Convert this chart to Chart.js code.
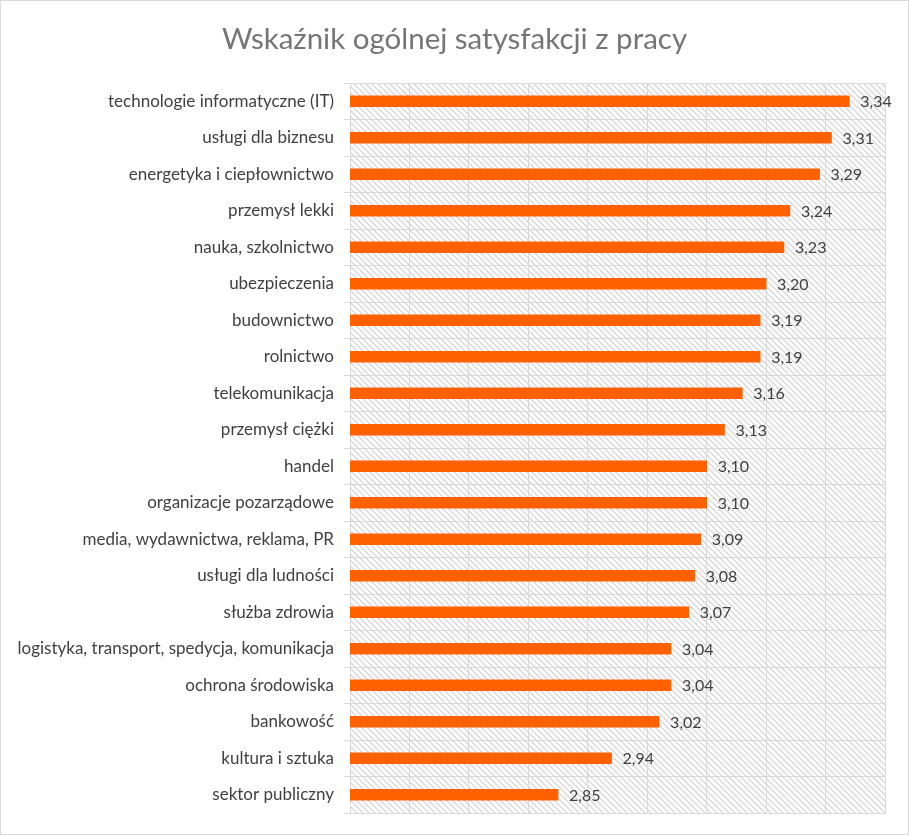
<!DOCTYPE html>
<html>
<head>
<meta charset="utf-8">
<script src="https://cdn.jsdelivr.net/npm/chart.js@4/dist/chart.umd.min.js"></script>
<style>
    html, body { margin: 0; padding: 0; background: #fff; }
    #wrap { position: relative; width: 909px; height: 835px; box-sizing: border-box; border: 1px solid #d9d9d9; }
</style>
</head>
<body>
<div id="wrap"><canvas id="chart" width="907" height="833"></canvas></div>
<script>
// 
// Chart data:
// 
var categories = [
    'technologie informatyczne (IT)',
    'usługi dla biznesu',
    'energetyka i ciepłownictwo',
    'przemysł lekki',
    'nauka, szkolnictwo',
    'ubezpieczenia',
    'budownictwo',
    'rolnictwo',
    'telekomunikacja',
    'przemysł ciężki',
    'handel',
    'organizacje pozarządowe',
    'media, wydawnictwa, reklama, PR',
    'usługi dla ludności',
    'służba zdrowia',
    'logistyka, transport, spedycja, komunikacja',
    'ochrona środowiska',
    'bankowość',
    'kultura i sztuka',
    'sektor publiczny'
];
var values = [3.34, 3.31, 3.29, 3.24, 3.23, 3.20, 3.19, 3.19, 3.16, 3.13,
              3.10, 3.10, 3.09, 3.08, 3.07, 3.04, 3.04, 3.02, 2.94, 2.85];
var title = 'Wskaźnik ogólnej satysfakcji z pracy';

var fontFamily = 'Lato, "Open Sans", sans-serif';

// 
// Hatched plot background (downward diagonal).
// 
function createHatch() {
    var tile = document.createElement('canvas');
    tile.width = 6;
    tile.height = 6;
    var c = tile.getContext('2d');
    c.fillStyle = '#ffffff';
    c.fillRect(0, 0, 6, 6);
    c.strokeStyle = '#d6d6d6';
    c.lineWidth = 1.3;
    c.beginPath();
    c.moveTo(-1, -1); c.lineTo(7, 7);
    c.moveTo(-4, 2); c.lineTo(4, 10);
    c.moveTo(2, -4); c.lineTo(10, 4);
    c.stroke();
    return tile;
}

var hatchPlugin = {
    id: 'hatch',
    beforeDraw: function (chart) {
        var ctx = chart.ctx, a = chart.chartArea;
        ctx.save();
        ctx.fillStyle = ctx.createPattern(createHatch(), 'repeat');
        ctx.fillRect(a.left, a.top, a.right - a.left, a.bottom - a.top);
        ctx.restore();
    }
};

// 
// Title centred on the whole canvas (not on the padded layout box).
// 
var titlePlugin = {
    id: 'centredTitle',
    afterDraw: function (chart) {
        var ctx = chart.ctx;
        ctx.save();
        ctx.font = '29.5px ' + fontFamily;
        ctx.fillStyle = '#757575';
        ctx.textAlign = 'center';
        ctx.textBaseline = 'middle';
        ctx.fillText(title, chart.width / 2, 38);
        ctx.restore();
    }
};

// 
// Value labels at the bar ends, decimal comma.
// 
var valueLabels = {
    id: 'valueLabels',
    afterDatasetsDraw: function (chart) {
        var ctx = chart.ctx;
        var meta = chart.getDatasetMeta(0);
        ctx.save();
        ctx.font = '16px ' + fontFamily;
        ctx.fillStyle = '#404040';
        ctx.textAlign = 'left';
        ctx.textBaseline = 'middle';
        meta.data.forEach(function (bar, i) {
            ctx.fillText(values[i].toFixed(2).replace('.', ','), bar.x + 11, bar.y + 1);
        });
        ctx.restore();
    }
};

new Chart(document.getElementById('chart'), {
    type: 'bar',
    data: {
        labels: categories,
        datasets: [{
            data: values,
            backgroundColor: '#ff6000',
            barThickness: 11
        }]
    },
    options: {
        indexAxis: 'y',
        responsive: false,
        animation: false,
        layout: { padding: { left: 0, right: 23, top: 82, bottom: 21 } },
        plugins: {
            legend: { display: false },
            tooltip: { enabled: false },
            title: { display: false }
        },
        scales: {
            x: {
                min: 2.5,
                max: 3.4,
                ticks: { display: false, stepSize: 0.1 },
                grid: { color: '#d9d9d9', drawTicks: false },
                border: { color: '#d9d9d9' }
            },
            y: {
                afterFit: function (scale) { scale.width = 349; },
                ticks: {
                    color: '#404040',
                    font: { family: fontFamily, size: 17 },
                    padding: 10
                },
                grid: { color: '#d9d9d9', offset: true, tickLength: 6 },
                border: { color: '#d9d9d9' }
            }
        }
    },
    plugins: [hatchPlugin, valueLabels, titlePlugin]
});
</script>
</body>
</html>
